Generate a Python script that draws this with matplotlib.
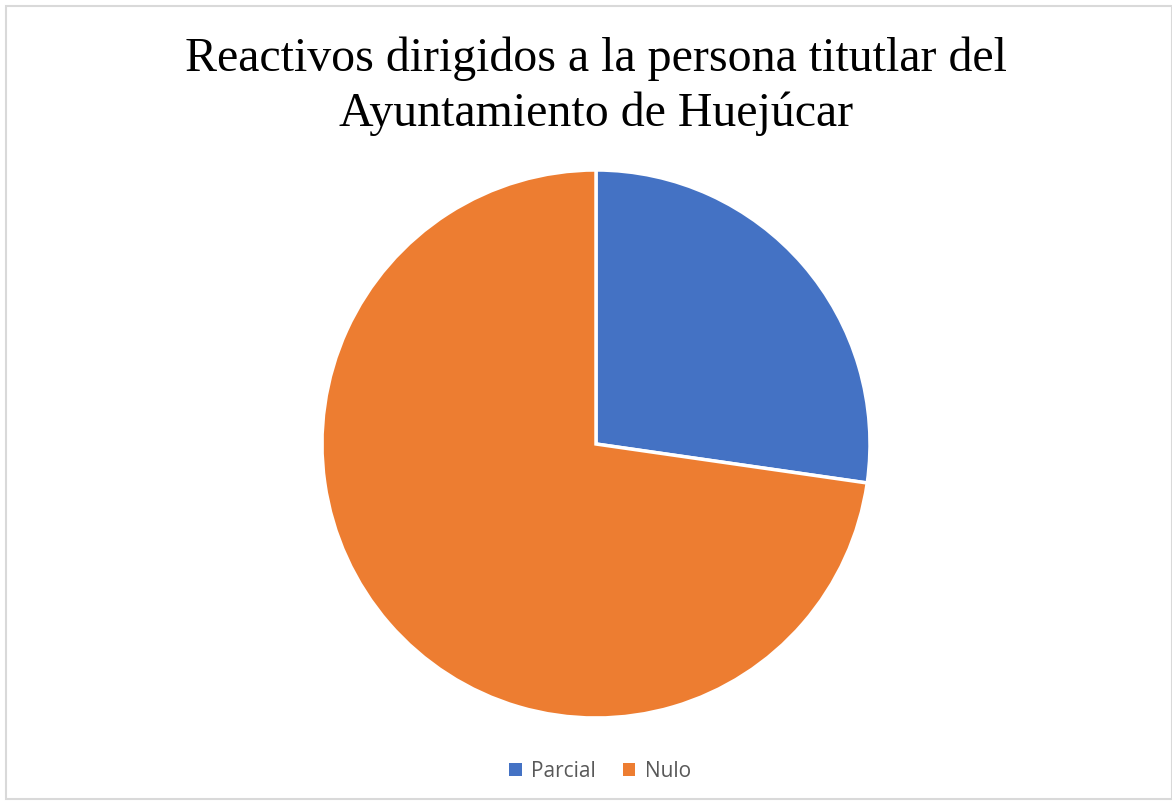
import matplotlib
matplotlib.use("Agg")
import matplotlib.pyplot as plt
from matplotlib.patches import Rectangle

categories = ["Parcial", "Nulo"]
values = [3, 8]
colors = ["#4472C4", "#ED7D31"]
title = "Reactivos dirigidos a la persona titutlar del\nAyuntamiento de Huejúcar"

fig = plt.figure(figsize=(11.72, 8.03), dpi=100)
fig.patches.append(Rectangle((6/1172, 3/803), 1 - 6/1172, 1 - 10/803, transform=fig.transFigure,
                             fill=False, edgecolor="#D9D9D9", linewidth=1.5))

ax = fig.add_axes([(596-274)/1172, (803-719)/803, 548/1172, 548/803])
wedges, _ = ax.pie(values, colors=colors, startangle=90, counterclock=False,
                   wedgeprops=dict(edgecolor="white", linewidth=2.5))
ax.set_aspect("equal")
ax.set_xlim(-1.0, 1.0)
ax.set_ylim(-1.0, 1.0)

fig.text(596/1172, 1 - 86/803, title, ha="center", va="center", fontsize=34.5,
         family="Liberation Serif", color="black", linespacing=1.3)

leg = fig.legend(wedges, categories, loc="center", bbox_to_anchor=(600/1172, 1 - 772/803),
                 ncol=2, frameon=False, handlelength=0.6, handleheight=0.6, handletextpad=0.45,
                 columnspacing=1.3, prop=dict(family="Open Sans", size=15))
for h in leg.legend_handles:
    h.set_edgecolor("none")
for t in leg.get_texts():
    t.set_color("#595959")

fig.savefig("out.png", dpi=100)
